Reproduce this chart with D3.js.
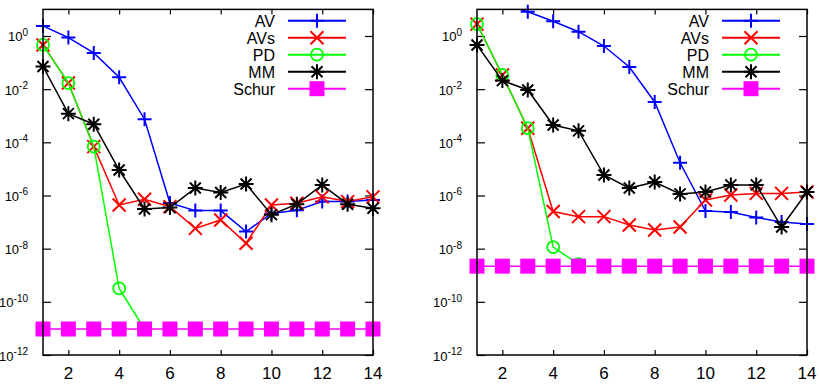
<!DOCTYPE html>
<html><head><meta charset="utf-8">
<script src="https://cdn.jsdelivr.net/npm/d3@7"></script>
<style>body{margin:0;background:#fff} svg{display:block}</style>
</head><body>
<svg id="c" width="819" height="386"></svg>
<script>
// ---- data ----
const iterations = [1,2,3,4,5,6,7,8,9,10,11,12,13,14];
const seriesNames = ["AV","AVs","PD","MM","Schur"];
const seriesColors = ["#0000ff","#ff0000","#00ff00","#000000","#ff00ff"];
const seriesMarkers = ["plus","cross","circle","star","square"];
const xTickValues = [2,4,6,8,10,12,14];
const yTickExponents = [0,-2,-4,-6,-8,-10,-12];

// left panel
const leftAV    = [2.4,0.87,0.23,2.8e-2,7.4e-4,5.2e-7,2.7e-7,2.7e-7,4.4e-8,2.1e-7,2.8e-7,5.9e-7,5.9e-7,6.8e-7];
const leftAVs   = [0.46,1.7e-2,6.9e-5,4.4e-7,7.2e-7,3.8e-7,5.8e-8,1.2e-7,1.6e-8,4.4e-7,5.1e-7,8.9e-7,5.9e-7,8.9e-7];
const leftPD    = [0.46,1.7e-2,6.9e-5,3.2e-10,9.5e-12,null,null,null,null,null,null,null,null,null];
const leftMM    = [7.1e-2,1.2e-3,4.8e-4,9.1e-6,3.1e-7,3.5e-7,1.9e-6,1.3e-6,2.7e-6,1.9e-7,4.7e-7,2.5e-6,4.7e-7,3.3e-7];
const leftSchur = [9.5e-12,9.5e-12,9.5e-12,9.5e-12,9.5e-12,9.5e-12,9.5e-12,9.5e-12,9.5e-12,9.5e-12,9.5e-12,9.5e-12,9.5e-12,9.5e-12];

// right panel
const rightAV    = [32,16,8.1,3.6,1.45,0.42,6.8e-2,3.3e-3,1.7e-5,2.6e-7,2.4e-7,1.5e-7,1.0e-7,8.5e-8];
const rightAVs   = [2.8,3.4e-2,3.4e-4,2.5e-7,1.6e-7,1.6e-7,7.8e-8,5.0e-8,6.5e-8,6.8e-7,1.05e-6,1.2e-6,1.2e-6,1.35e-6];
const rightPD    = [2.8,3.4e-2,3.4e-4,1.15e-8,2.6e-9,null,null,null,null,null,null,null,null,null];
const rightMM    = [0.46,2.1e-2,9.3e-3,4.5e-4,2.7e-4,5.9e-6,1.9e-6,3.2e-6,1.15e-6,1.35e-6,2.5e-6,2.5e-6,6.5e-8,1.35e-6];
const rightSchur = [2.2e-9,2.2e-9,2.2e-9,2.2e-9,2.2e-9,2.2e-9,2.2e-9,2.2e-9,2.2e-9,2.2e-9,2.2e-9,2.2e-9,2.2e-9,2.2e-9];

const panels = [
  {left:43,  series:[leftAV,leftAVs,leftPD,leftMM,leftSchur]},
  {left:477, series:[rightAV,rightAVs,rightPD,rightMM,rightSchur]}
];

// ---- drawing ----
const svg = d3.select("#c");
const W = 330, TOP = 9.4, BOTTOM = 355;
const FONT = "'Liberation Sans', Arial, sans-serif";

function markerPath(type){
  switch(type){
    case "plus":  return "M-7,0H7M0,-7V7";
    case "cross": return "M-6.5,-6.5L6.5,6.5M-6.5,6.5L6.5,-6.5";
    case "star":  return "M-7.5,0H7.5M0,-7.5V7.5M-5.5,-5.5L5.5,5.5M-5.5,5.5L5.5,-5.5";
  }
  return null;
}
function drawMarker(g, type, color, cx, cy){
  if(type==="circle"){
    g.append("circle").attr("cx",cx).attr("cy",cy).attr("r",6)
      .attr("fill","none").attr("stroke",color).attr("stroke-width",1.8);
  } else if(type==="square"){
    g.append("rect").attr("x",cx-7.5).attr("y",cy-7.5).attr("width",15).attr("height",15)
      .attr("fill",color);
  } else {
    g.append("path").attr("d",markerPath(type)).attr("transform",`translate(${cx},${cy})`)
      .attr("fill","none").attr("stroke",color).attr("stroke-width",2);
  }
}

panels.forEach((p,pi)=>{
  const x = d3.scaleLinear().domain([1,14]).range([p.left, p.left+W]);
  const y = d3.scaleLog().domain([1e-12,10]).range([BOTTOM, TOP]);
  const yTicks = yTickExponents.map(e=>Math.pow(10,e));

  const clipId = "clip"+pi;
  svg.append("clipPath").attr("id",clipId).append("rect")
    .attr("x",p.left).attr("y",TOP).attr("width",W).attr("height",BOTTOM-TOP);

  // axes (inward ticks, mirrored)
  const axG = svg.append("g");
  const mk = (gen, tr)=>{
    const a = axG.append("g").attr("transform",tr).call(gen);
    a.select(".domain").remove();
    a.selectAll("line").attr("stroke","#000").attr("stroke-width",1.2);
    a.selectAll("text").remove();
  };
  mk(d3.axisBottom(x).tickValues(xTickValues).tickSize(-5).tickFormat(""), `translate(0,${BOTTOM})`);
  mk(d3.axisTop(x).tickValues(xTickValues).tickSize(-5).tickFormat(""), `translate(0,${TOP})`);
  mk(d3.axisLeft(y).tickValues(yTicks).tickSize(-8).tickFormat(""), `translate(${p.left},0)`);
  mk(d3.axisRight(y).tickValues(yTicks).tickSize(-8).tickFormat(""), `translate(${p.left+W},0)`);

  // tick labels
  xTickValues.forEach(v=>{
    axG.append("text").attr("x",x(v)).attr("y",379).attr("text-anchor","middle")
      .attr("font-family",FONT).attr("font-size",17).text(v);
  });
  yTickExponents.forEach(e=>{
    const t = axG.append("text").attr("x",p.left-15).attr("y",y(Math.pow(10,e))+5.5)
      .attr("text-anchor","end").attr("font-family",FONT).attr("font-size",13);
    t.append("tspan").text("10");
    t.append("tspan").attr("dy",-5.5).attr("font-size",10).text(String(e));
  });

  // series
  p.series.forEach((vals,si)=>{
    const color = seriesColors[si];
    const pts = iterations.map((it,i)=>({x:it, v:vals[i]}));
    const line = d3.line().defined(d=>d.v!=null).x(d=>x(d.x)).y(d=>y(d.v));
    svg.append("path").datum(pts).attr("d",line).attr("clip-path",`url(#${clipId})`)
      .attr("fill","none").attr("stroke",color).attr("stroke-width",1.5);
    const mg = svg.append("g");
    pts.forEach(d=>{
      if(d.v==null) return;
      if(d.v>10 || d.v<1e-12) return;
      drawMarker(mg, seriesMarkers[si], color, x(d.x), y(d.v));
    });
  });

  // frame
  svg.append("rect").attr("x",p.left).attr("y",TOP).attr("width",W).attr("height",BOTTOM-TOP)
    .attr("fill","none").attr("stroke","#000").attr("stroke-width",1.5);

  // legend
  const lg = svg.append("g");
  seriesNames.forEach((n,si)=>{
    const ly = 20.7 + si*17;
    lg.append("text").attr("x",p.left+232).attr("y",ly+6).attr("text-anchor","end")
      .attr("font-family",FONT).attr("font-size",16).text(n);
    lg.append("line").attr("x1",p.left+245).attr("x2",p.left+303).attr("y1",ly).attr("y2",ly)
      .attr("stroke",seriesColors[si]).attr("stroke-width",2);
    drawMarker(lg, seriesMarkers[si], seriesColors[si], p.left+274, ly);
  });
});
</script>
</body></html>
